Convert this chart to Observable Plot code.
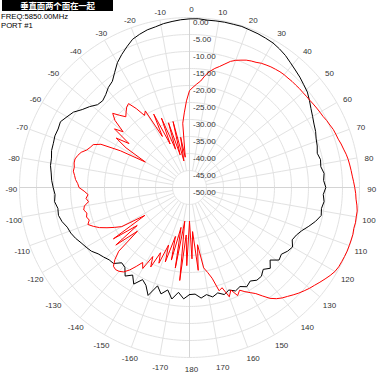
<!DOCTYPE html>
<html><head><meta charset="utf-8">
<script src="https://cdn.jsdelivr.net/npm/d3@7"></script>
<script src="https://cdn.jsdelivr.net/npm/@observablehq/plot@0.6"></script>
<style>
body{margin:0;background:#fff;}
#wrap{position:relative;width:378px;height:378px;overflow:hidden;}
#title{position:absolute;left:2px;top:0;width:111px;height:11px;background:#000;color:#fff;font:bold 8.5px "Noto Sans CJK SC";line-height:11px;text-align:center;letter-spacing:-0.2px;}
.info{position:absolute;left:1px;font:7.7px "Liberation Sans",Arial,sans-serif;color:#000;line-height:9px;}
</style></head><body>
<div id="wrap"><div id="chart"></div>
<div id="title">垂直面两个面在一起</div>
<div class="info" style="top:12px">FREQ:5850.00MHz</div>
<div class="info" style="top:21px">PORT #1</div>
</div>
<script>
// angle tick labels (degrees, clockwise from top)
const angleTicks = [0,10,20,30,40,50,60,70,80,90,100,110,120,130,140,150,160,170,180,-170,-160,-150,-140,-130,-120,-110,-100,-90,-80,-70,-60,-50,-40,-30,-20,-10];
const angleLabels = ["0","10","20","30","40","50","60","70","80","90","100","110","120","130","140","150","160","170","180","-170","-160","-150","-140","-130","-120","-110","-100","-90","-80","-70","-60","-50","-40","-30","-20","-10"];
// radial rings (dB)
const ringTicks = [0,-5,-10,-15,-20,-25,-30,-35,-40,-45,-50];
const ringLabels = ["0.00","-5.00","-10.00","-15.00","-20.00","-25.00","-30.00","-35.00","-40.00","-45.00","-50.00"];

// black trace: dB, sampled every 3 degrees starting at -180
const blackStart = -180, blackStep = 3;
const blackDb = [
-18.5,-17.2,-19,-16.8,-19.2,-17.6,-19.6,-16,-18.5,-19.6,
-17.2,-19.3,-17.8,-19.8,-20.2,-18.4,-18.2,-17.5,-16.8,-15.6,
-14.9,-14.2,-13.3,-12.6,-12.2,-11.2,-10.6,-10.8,-10.1,-10.4,
-9.9,-9.4,-9.1,-8.6,-8.5,-8.0,-7.9,-7.6,-7.7,-7.4,
-8.4,-9.3,-11.0,-12.2,-13.6,-13.9,-13.2,-12.1,-11.4,-9.6,
-7.6,-6.1,-4.7,-3.3,-2.6,-2.0,-1.7,-1.2,-0.9,-0.6,
-0.4,-0.3,-0.5,-0.4,-0.3,-0.3,-0.2,-0.4,-0.5,-0.7,
-0.9,-1.4,-2.0,-2.8,-3.5,-4.1,-4.8,-5.4,-6.4,-7.4,
-8.2,-8.9,-9.4,-10.1,-10.5,-11.1,-10.6,-10.9,-10.2,-10.5,
-9.9,-10.6,-10.2,-10.7,-10.4,-11.6,-13.1,-14.6,-15.6,-16.1,
-15.0,-15.6,-16.6,-16.1,-18.1,-16.4,-17.6,-16.4,-16.3,-17.2,
-16.3,-17.3,-16.7,-17.7,-16.9,-17.9,-17.1,-18.1,-17.3,-18.6];

// red trace: dB, sampled every 2 degrees starting at -180
const redStart = -180, redStep = 2;
const redDb = [
-40,-27,-36,-22.5,-40,-26,-38,-28,-35,-27,
-32,-26,-29,-24,-27,-22.5,-24,-22,-20,-18.5,
-17.8,-17.5,-17.8,-19.5,-22,-30,-22.5,-31,-23,-34.5,
-27,-25,-23,-21,-19.5,-18.2,-19,-18.5,-18.9,-18.2,
-18.6,-20,-19.4,-20.1,-19,-17.5,-17.1,-16.4,-16,-15.5,
-15.6,-15.3,-15.3,-15.8,-16.5,-17.8,-18.5,-19,-21,-27,
-35,-28,-24,-28,-22,-24.5,-20.5,-18.6,-20.5,-22,
-21,-20,-19.5,-22,-25,-24,-33,-26,-36,-28,
-38,-30,-40,-30,-42,-35,-41,-31,-28,-24.5,
-21.5,-20.5,-19.5,-18.5,-16.7,-15.3,-14.2,-13.3,-12.2,-11.0,
-10.2,-9.6,-9.0,-8.6,-8.3,-7.8,-7.5,-7.2,-7.0,-6.8,
-6.7,-6.7,-6.6,-6.6,-6.5,-6.5,-6.4,-6.3,-6.1,-5.9,
-5.7,-5.5,-5.1,-4.8,-4.4,-4.2,-4.0,-3.6,-3.3,-2.9,
-2.6,-2.4,-2.2,-2.0,-1.7,-1.4,-1.1,-0.9,-0.5,-0.2,
-0.2,-0.1,-0.2,0,0,0,0,-0.1,-0.2,-0.3,
-0.6,-1.2,-1.9,-2.6,-3.3,-3.9,-4.6,-5.3,-6.1,-6.9,
-7.6,-8.5,-9.7,-11.5,-13.2,-14.3,-15.3,-16.4,-15.2,-17.5,
-15.8,-19,-18.4,-22.5,-24.5,-26,-33,-25.5,-37,-29];

const dbMin = -50;
const toLat = db => 90 - (db - dbMin);        // radius in degrees of arc from the pole
const toLon = th => 180 - th;                  // 0 at top, clockwise
const series = (vals, start, step) => {
  const pts = vals.map((v, i) => ({lon: toLon(start + i * step), lat: toLat(v)}));
  pts.push(pts[0]);
  return pts;
};
const black = series(blackDb, blackStart, blackStep);
const red = series(redDb, redStart, redStep);

const spokes = angleTicks.map(a => ({a, axis: a % 90 === 0}));
const gridRings = ringTicks.filter(v => v > dbMin);

const chart = Plot.plot({
  width: 378, height: 378,
  marginLeft: 19, marginRight: 19, marginTop: 17, marginBottom: 21,
  style: {fontFamily: "'Liberation Sans', Arial, sans-serif", fontSize: "8px", background: "#fff"},
  projection: {
    type: "azimuthal-equidistant",
    rotate: [0, -90],
    inset: 0,
    clip: false,
    domain: d3.geoCircle().center([0, 90]).radius(-dbMin)()
  },
  marks: [
    Plot.geo(gridRings.map(v => d3.geoCircle().center([0, 90]).radius(v - dbMin).precision(1)()), {stroke: "#e2e2e2", strokeWidth: 1, fill: "none"}),
    Plot.link(spokes, {
      x1: d => toLon(d.a), y1: d => d.axis ? toLat(dbMin) : toLat(-45),
      x2: d => toLon(d.a), y2: toLat(0),
      stroke: d => d.axis ? "#d4d4d4" : "#e2e2e2", strokeWidth: 1
    }),
    Plot.line(black, {x: "lon", y: "lat", stroke: "#000", strokeWidth: 1}),
    Plot.line(red, {x: "lon", y: "lat", stroke: "#ff0000", strokeWidth: 1}),
    Plot.text(ringTicks, {x: 180, y: d => toLat(d), text: (d, i) => ringLabels[i], textAnchor: "start", dx: 3.5, dy: 5, fill: "#333", fontSize: 8}),
    Plot.text(angleTicks, {x: d => toLon(d), y: 90 - 53, text: (d, i) => angleLabels[i], dx: 2, dy: 2, fill: "#333", fontSize: 8})
  ]
});
document.getElementById("chart").appendChild(chart);
</script>
</body></html>
